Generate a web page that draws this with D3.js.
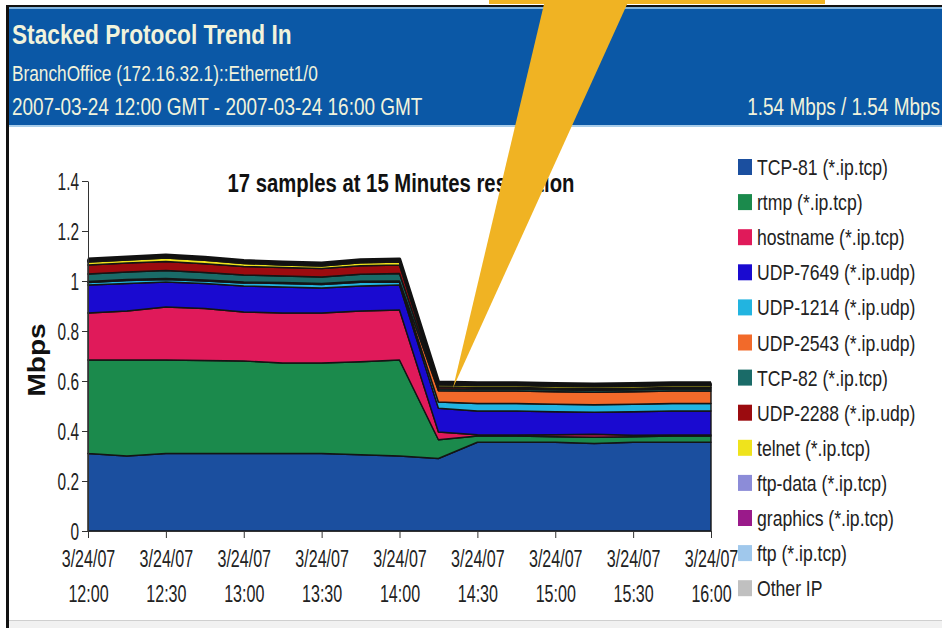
<!DOCTYPE html>
<html><head><meta charset="utf-8">
<script src="https://cdn.jsdelivr.net/npm/d3@7"></script>
<style>html,body{margin:0;padding:0;background:#fff;overflow:hidden}svg{display:block}</style>
</head><body><svg id="c" width="942" height="628"></svg>
<script>
// ---------- data ----------
const sampleTimes = ["12:00","12:15","12:30","12:45","13:00","13:15","13:30","13:45","14:00","14:15","14:30","14:45","15:00","15:15","15:30","15:45","16:00"];
const seriesNames = ["TCP-81 (*.ip.tcp)","rtmp (*.ip.tcp)","hostname (*.ip.tcp)","UDP-7649 (*.ip.udp)","UDP-1214 (*.ip.udp)","UDP-2543 (*.ip.udp)","TCP-82 (*.ip.tcp)","UDP-2288 (*.ip.udp)","telnet (*.ip.tcp)","ftp-data (*.ip.tcp)","graphics (*.ip.tcp)","ftp (*.ip.tcp)","Other IP"];
const seriesColors = ["#1b4f9f","#1b8a4c","#e01a5a","#1a0ad0","#22b4e0","#f26a2a","#1a6b68","#9b0b0f","#efe31c","#8c8cd8","#9a1a8a","#a0c8ec","#c0c0c0"];
const tcp81    = [0.310,0.300,0.310,0.310,0.310,0.310,0.310,0.305,0.300,0.290,0.355,0.355,0.355,0.350,0.355,0.355,0.355];
const rtmp     = [0.374,0.384,0.374,0.372,0.370,0.362,0.362,0.372,0.384,0.075,0.025,0.025,0.022,0.025,0.022,0.025,0.025];
const hostname = [0.188,0.196,0.212,0.208,0.196,0.200,0.200,0.203,0.200,0.031,0.005,0.004,0.008,0.012,0.006,0.004,0.004];
const udp7649  = [0.112,0.110,0.100,0.100,0.104,0.104,0.100,0.100,0.100,0.095,0.095,0.096,0.092,0.088,0.094,0.096,0.096];
const udp1214  = [0.010,0.012,0.010,0.010,0.012,0.014,0.014,0.015,0.012,0.025,0.030,0.030,0.030,0.030,0.030,0.030,0.030];
const udp2543  = [0.004,0.004,0.004,0.004,0.004,0.004,0.004,0.004,0.004,0.045,0.050,0.050,0.050,0.050,0.050,0.050,0.050];
const tcp82    = [0.030,0.030,0.032,0.030,0.028,0.026,0.026,0.028,0.030,0.008,0.008,0.008,0.008,0.008,0.008,0.008,0.008];
const udp2288  = [0.036,0.036,0.036,0.035,0.034,0.034,0.034,0.034,0.034,0.008,0.006,0.006,0.006,0.006,0.006,0.006,0.006];
const telnet   = [0.012,0.012,0.014,0.014,0.012,0.010,0.010,0.012,0.012,0.008,0.008,0.008,0.008,0.008,0.008,0.008,0.008];
const ftpData  = [0.003,0.003,0.003,0.003,0.003,0.003,0.003,0.003,0.003,0.002,0.002,0.002,0.002,0.002,0.002,0.002,0.002];
const graphics = [0.002,0.002,0.002,0.002,0.002,0.002,0.002,0.002,0.002,0.002,0.002,0.002,0.002,0.002,0.002,0.002,0.002];
const ftp      = [0.002,0.002,0.002,0.002,0.002,0.002,0.002,0.002,0.002,0.002,0.002,0.002,0.002,0.002,0.002,0.002,0.002];
const otherIP  = [0.004,0.004,0.004,0.004,0.004,0.004,0.004,0.004,0.004,0.004,0.004,0.004,0.004,0.004,0.004,0.004,0.004];
const seriesValues = [tcp81,rtmp,hostname,udp7649,udp1214,udp2543,tcp82,udp2288,telnet,ftpData,graphics,ftp,otherIP];
const yTicks = [0,0.2,0.4,0.6,0.8,1,1.2,1.4];
const yTickLabels = ["0","0.2","0.4","0.6","0.8","1","1.2","1.4"];
const xTickTimes = ["12:00","12:30","13:00","13:30","14:00","14:30","15:00","15:30","16:00"];
const xTickDate = "3/24/07";
const headerTitle = "Stacked Protocol Trend In";
const headerDevice = "BranchOffice (172.16.32.1)::Ethernet1/0";
const headerRange = "2007-03-24 12:00 GMT - 2007-03-24 16:00 GMT";
const headerSpeed = "1.54 Mbps / 1.54 Mbps";
const chartTitle = "17 samples at 15 Minutes resolution";
const yLabel = "Mbps";

// ---------- helpers ----------
const FF = "'Liberation Sans', Arial, Helvetica, sans-serif";
const toDate = s => { const [h,m] = s.split(":").map(Number); return new Date(Date.UTC(2007,2,24,h,m)); };
function T(g, x, y, s, o){
  return g.append("text")
    .attr("transform", `translate(${x},${y}) ${o.rot?`rotate(${o.rot}) `:""}scale(${o.sx||1},${o.sy||1})`)
    .attr("font-family", FF).attr("font-size", o.fs).attr("font-weight", o.fw||"normal")
    .attr("fill", o.fill||"#111").attr("text-anchor", o.anchor||"start").text(s);
}

const svg = d3.select("#c");

// ---------- frame / header ----------
svg.append("rect").attr("x",0).attr("y",0).attr("width",942).attr("height",628).attr("fill","#fff");
svg.append("rect").attr("x",8).attr("y",620).attr("width",934).attr("height",8).attr("fill","#f1f1f1");
svg.append("line").attr("x1",8).attr("x2",942).attr("y1",620.5).attr("y2",620.5).attr("stroke","#cfcfcf");
svg.append("rect").attr("x",8).attr("y",5).attr("width",934).attr("height",2).attr("fill","#111");
svg.append("rect").attr("x",9).attr("y",7).attr("width",933).attr("height",119).attr("fill","#0b58a6");
svg.append("rect").attr("x",9).attr("y",7).attr("width",933).attr("height",2).attr("fill","#7fb2dc");
svg.append("rect").attr("x",9).attr("y",125).attr("width",933).attr("height",2).attr("fill","#a9cde9");
svg.append("rect").attr("x",6).attr("y",5).attr("width",3).attr("height",623).attr("fill","#111");

const hdr = svg.append("g");
const cream = "#f1f3dc";
T(hdr, 12, 44, headerTitle, {fs:28, fw:"bold", sx:0.81, fill:cream});
T(hdr, 12, 81, headerDevice, {fs:22, sx:0.785, fill:cream});
T(hdr, 12, 115, headerRange, {fs:24, sx:0.79, fill:cream});
T(hdr, 940, 115, headerSpeed, {fs:24, sx:0.79, fill:cream, anchor:"end"});

// ---------- chart ----------
const x = d3.scaleUtc().domain([toDate("12:00"), toDate("16:00")]).range([88, 711]);
const y = d3.scaleLinear().domain([0, 1.4]).range([531, 181]);

const rows = sampleTimes.map((t,i) => {
  const r = {t: toDate(t)};
  seriesNames.forEach((n,k) => r[n] = seriesValues[k][i]);
  return r;
});
const stack = d3.stack().keys(seriesNames)(rows);
const area = d3.area().x(d => x(d.data.t)).y0(d => y(d[0])).y1(d => y(d[1]));

const plot = svg.append("g");
plot.selectAll("path.layer").data(stack).join("path").attr("class","layer")
  .attr("d", area).attr("fill", (d,i) => seriesColors[i])
  .attr("stroke", "#141414").attr("stroke-width", 1.4).attr("stroke-linejoin","round");
const topLine = d3.line().x(d => x(d.data.t)).y(d => y(d[1]));
plot.append("path").datum(stack[stack.length-1]).attr("d", topLine)
  .attr("fill","none").attr("stroke","#111").attr("stroke-width",3.5).attr("stroke-linejoin","round");

// axes
const yAxis = svg.append("g").attr("transform","translate(88,0)")
  .call(d3.axisLeft(y).tickValues(yTicks).tickSize(6).tickSizeOuter(0).tickFormat((d,i)=>yTickLabels[i]));
yAxis.select(".domain").attr("stroke","#333");
yAxis.selectAll(".tick line").attr("stroke","#333");
yAxis.selectAll(".tick text").attr("x",null).attr("dy",null)
  .attr("transform","translate(-9,8) scale(0.67,1)")
  .attr("font-family",FF).attr("font-size",23).attr("fill","#222");

const xAxis = svg.append("g").attr("transform","translate(0,531)")
  .call(d3.axisBottom(x).tickValues(xTickTimes.map(toDate)).tickSize(7).tickSizeOuter(0).tickFormat(""));
xAxis.select(".domain").attr("stroke","#333");
xAxis.selectAll(".tick line").attr("stroke","#333");
xAxis.selectAll(".tick").each(function(d,i){
  const g = d3.select(this);
  T(g, 0, 36, xTickDate, {fs:24, sx:0.67, fill:"#222", anchor:"middle"});
  T(g, 0, 71, xTickTimes[i], {fs:24, sx:0.67, fill:"#222", anchor:"middle"});
});

T(svg, 401, 192, chartTitle, {fs:26, fw:"bold", sx:0.78, fill:"#111", anchor:"middle"});
T(svg, 45, 360, yLabel, {fs:23, fw:"bold", rot:-90, sx:1.22, fill:"#111", anchor:"middle"});

// legend
const leg = svg.append("g");
seriesNames.forEach((n,i) => {
  const cy = 167 + i*35.1;
  leg.append("rect").attr("x",738).attr("y",cy-8).attr("width",14).attr("height",16).attr("fill",seriesColors[i]);
  T(leg, 757, cy+8, n, {fs:22, sx:0.8, fill:"#222"});
});

// callout
const callout = svg.append("g");
callout.append("rect").attr("x",489).attr("y",0).attr("width",336).attr("height",4).attr("fill","#f0b323");
callout.append("path").attr("d","M545,0 L629,0 L453,388 Z").attr("fill","#f0b323");
</script></body></html>
